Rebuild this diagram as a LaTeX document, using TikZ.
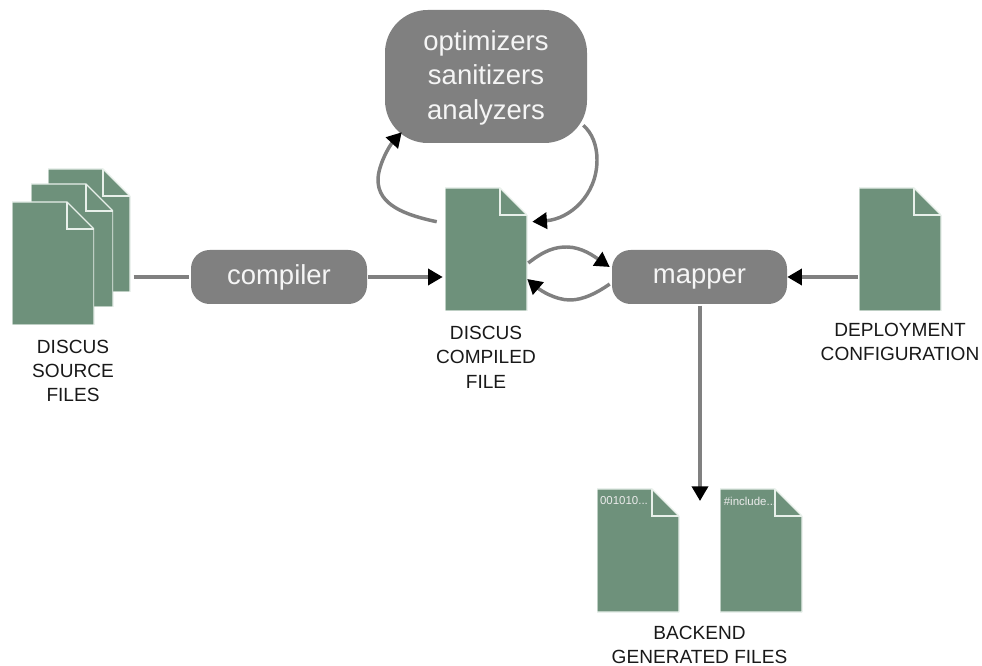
\documentclass[tikz,border=0pt]{standalone}
\usepackage{fontspec}
\setmainfont{Liberation Sans}
\usetikzlibrary{arrows.meta,calc}

\definecolor{docgreen}{RGB}{110,145,123}
\definecolor{docedge}{RGB}{232,240,234}
\definecolor{toolgray}{RGB}{128,128,128}

\tikzset{
	docfile/.style={rectangle, inner sep=0pt, minimum width=61.5pt, minimum height=92.25pt,
		path picture={
			\coordinate (bbne) at (path picture bounding box.north east);
			\coordinate (bbsw) at (path picture bounding box.south west);
			\coordinate (foldtop) at ($(bbne)+(-27,0)$);
			\coordinate (foldside) at ($(bbne)+(0,-27)$);
			\draw[fill=docgreen, draw=docedge, line width=0.9pt] (bbsw) -- (bbsw |- bbne) -- (foldtop) -- (foldside) -- (bbne |- bbsw) -- cycle;
			\draw[draw=docedge, line width=0.9pt] (foldtop) -- (foldtop |- foldside) -- (foldside);
		}},
	toolbox/.style={rectangle, rounded corners=#1, fill=toolgray, text=white!96!black, font=\fontsize{20.6pt}{25.9pt}\selectfont, align=center, inner sep=0pt},
	caption/.style={font=\fontsize{14.3pt}{18.3pt}\selectfont, align=center, text=black!90},
	smalltext/.style={font=\fontsize{8.6pt}{10pt}\selectfont, text=white!92!black},
	flow/.style={draw=toolgray, line width=2.6pt},
	flowarrow/.style={flow, -{Triangle[length=11pt, width=12pt, color=black]}},
}

\begin{document}
\begin{tikzpicture}[x=0.75pt,y=0.75pt,yscale=-1,xscale=1]
	\useasboundingbox (0,0) rectangle (982,666);

	% Source files
	\node[docfile] (sourceback) at (89,230.5) {};
	\node[docfile] (sourcemid) at (72,245.5) {};
	\node[docfile] (sourcefront) at (53,263.5) {};
	% Compiled file
	\node[docfile] (compiledfile) at (486,249.5) {};
	% Deployment file
	\node[docfile] (deployfile) at (900,249.5) {};
	% Backend files
	\node[docfile] (binaryfile) at (638,550.5) {};
	\node[docfile] (sourcefile) at (761,550.5) {};
	% Tools
	\node[toolbox=14pt, minimum width=132pt, minimum height=40.5pt] (compiler) at (279,277) {compiler};
	\node[toolbox=14pt, minimum width=131.25pt, minimum height=40.5pt, text height=13.35pt] (mapper) at (699.5,277) {mapper};
	\node[toolbox=32pt, minimum width=151.5pt, minimum height=99.75pt] (optimizers) at (486,76.5) {\rule{0pt}{16.5pt}optimizers\\sanitizers\\analyzers};
	% Text Node
	\node[caption] (sourcelabel) at (73,371) {DISCUS\\SOURCE\\FILES};
	\node[caption] (compiledlabel) at (486,357) {DISCUS\\COMPILED\\FILE};
	\node[caption] (deploylabel) at (900,342) {DEPLOYMENT\\CONFIGURATION};
	\node[caption] (backendlabel) at (699.5,645) {BACKEND\\GENERATED FILES};
	\node[smalltext] (binarytext) at (624,501) {001010...};
	\node[smalltext] (sourcetext) at (750,501) {\#include...};
	\coordinate (mapperend) at (700,501);

	% Connection
	\draw[flow, shorten <=2.5pt, shorten >=1.5pt] (sourceback.east |- compiler.west) -- (compiler.west);
	\draw[flowarrow, shorten <=0.75pt, shorten >=1.5pt] (compiler.east) -- (compiledfile.west |- compiler.east);
	\draw[flowarrow, shorten <=0.75pt] (deployfile.west |- mapper.east) -- (mapper.east);
	\draw[flowarrow, shorten <=1pt] (mapper.south) ++(0.5,0) -- (mapperend);
	% Connection
	\draw[flowarrow] ($(compiledfile.north west)+(-8,34)$) .. controls (405,215) and (378,205) .. (378,180) .. controls (378,165) and (390,145) .. ($(optimizers.south west)+(17,-11)$);
	\draw[flowarrow] ($(optimizers.south east)+(-4,-18)$) .. controls (592,133) and (597,145) .. (597,160) .. controls (597,195) and (570,219) .. ($(compiledfile.north east)+(5,34)$);
	% Connection
	\draw[flowarrow] ($(compiledfile.east)+(1,13.5)$) .. controls (545,250) and (555,247) .. (567,247) .. controls (582,247) and (595,257) .. ($(mapper.west)+(-2,-10)$);
	\draw[flowarrow] ($(mapper.west)+(-2,7)$) .. controls (597,293) and (583,300) .. (570,300) .. controls (555,300) and (540,290) .. ($(compiledfile.east)+(0,29.5)$);
\end{tikzpicture}
\end{document}
